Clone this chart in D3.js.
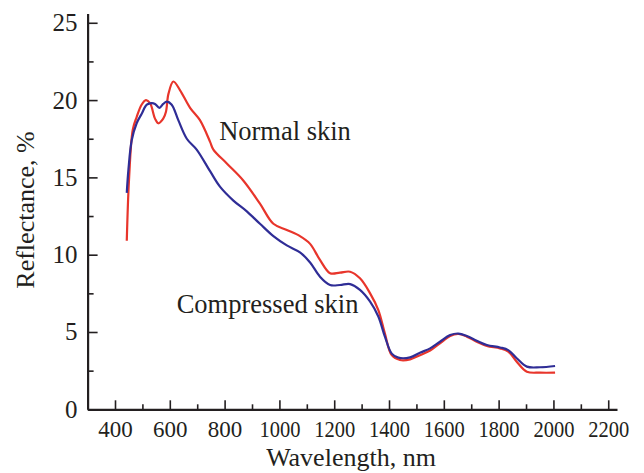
<!DOCTYPE html>
<html>
<head>
<meta charset="utf-8">
<script src="https://cdn.jsdelivr.net/npm/d3@7"></script>
<style>
  html, body { margin: 0; padding: 0; background: #fff; }
</style>
</head>
<body>
<svg id="chart" width="644" height="473"></svg>
<script>
// Wavelength (nm) and reflectance (%)
const normalWavelength = [443, 451, 465, 479, 497, 513, 528, 546, 558, 576, 586, 595, 613, 637, 674, 710, 747, 759, 808, 868, 929, 978, 1027, 1075, 1112, 1148, 1185, 1221, 1258, 1294, 1331, 1361, 1385, 1410, 1440, 1477, 1513, 1550, 1586, 1623, 1653, 1684, 1720, 1757, 1805, 1835, 1866, 1903, 1951, 2006];
const normalReflectance = [10.9, 14.8, 18.1, 18.9, 19.7, 20.0, 19.8, 18.8, 18.5, 18.8, 19.25, 20.4, 21.2, 20.65, 19.5, 18.7, 17.3, 16.8, 15.9, 14.8, 13.3, 12.0, 11.6, 11.2, 10.7, 9.66, 8.8, 8.84, 8.9, 8.47, 7.5, 6.42, 4.9, 3.5, 3.19, 3.23, 3.5, 3.8, 4.27, 4.74, 4.87, 4.7, 4.37, 4.1, 3.94, 3.73, 3.08, 2.43, 2.37, 2.37];

const compressedWavelength = [443, 449, 461, 479, 497, 516, 534, 546, 562, 576, 589, 607, 631, 662, 698, 747, 783, 832, 881, 929, 978, 1027, 1075, 1112, 1148, 1185, 1221, 1258, 1294, 1331, 1361, 1385, 1410, 1434, 1477, 1513, 1550, 1586, 1623, 1653, 1684, 1720, 1757, 1805, 1835, 1866, 1903, 1951, 2006];
const compressedReflectance = [14.0, 15.5, 17.4, 18.5, 19.1, 19.7, 19.8, 19.75, 19.5, 19.75, 19.9, 19.7, 18.7, 17.5, 16.8, 15.4, 14.4, 13.5, 12.8, 12.0, 11.2, 10.6, 10.15, 9.5, 8.58, 8.04, 8.04, 8.1, 7.72, 6.96, 6.0, 4.7, 3.6, 3.34, 3.36, 3.66, 3.94, 4.37, 4.8, 4.9, 4.74, 4.44, 4.16, 4.0, 3.83, 3.3, 2.76, 2.72, 2.8];

const xMajorTicks = [400, 600, 800, 1000, 1200, 1400, 1600, 1800, 2000, 2200];
const xMinorTicks = [500, 700, 900, 1100, 1300, 1500, 1700, 1900, 2100];
const yMajorTicks = [0, 5, 10, 15, 20, 25];
const yMinorTicks = [2.5, 7.5, 12.5, 17.5, 22.5];

const xTitle = "Wavelength, nm";
const yTitle = "Reflectance, %";
const normalLabel = "Normal skin";
const compressedLabel = "Compressed skin";

const FONT = "'Liberation Serif', 'DejaVu Serif', serif";
const svg = d3.select("#chart");
const x = d3.scaleLinear().domain([300, 2232]).range([87.6, 617]);
const y = d3.scaleLinear().domain([0, 25.6]).range([409.3, 13.5]);

const axisColor = "#231f20";

// X axis
const gx = svg.append("g").attr("transform", `translate(0,${y(0)})`);
gx.call(d3.axisBottom(x).tickValues(xMajorTicks).tickSizeInner(-9).tickSizeOuter(0).tickPadding(11).tickFormat(d3.format("d")));
gx.append("g").call(d3.axisBottom(x).tickValues(xMinorTicks).tickSizeInner(-5).tickSizeOuter(0).tickFormat(""))
  .select(".domain").remove();
gx.selectAll(".domain").attr("stroke", axisColor).attr("stroke-width", 2.2);
gx.selectAll(".tick line").attr("stroke", axisColor).attr("stroke-width", 1.6);
gx.attr("font-family", FONT);
gx.selectAll(".tick text").attr("font-family", FONT).attr("font-size", 23).attr("fill", axisColor)
  .each(function(d) { if (String(d).length === 4) d3.select(this).attr("textLength", 41).attr("lengthAdjust", "spacingAndGlyphs"); });

// Y axis
const gy = svg.append("g").attr("transform", `translate(${x(300)},0)`);
gy.call(d3.axisLeft(y).tickValues(yMajorTicks).tickSizeInner(-10).tickSizeOuter(0).tickPadding(10).tickFormat(d3.format("d")));
gy.append("g").call(d3.axisLeft(y).tickValues(yMinorTicks).tickSizeInner(-6).tickSizeOuter(0).tickFormat(""))
  .select(".domain").remove();
gy.selectAll(".domain").attr("stroke", axisColor).attr("stroke-width", 2.2);
gy.selectAll(".tick line").attr("stroke", axisColor).attr("stroke-width", 1.6);
gy.attr("font-family", FONT);
gy.selectAll(".tick text").attr("font-family", FONT).attr("font-size", 25).attr("fill", axisColor);

// Titles
svg.append("text").attr("x", 351).attr("y", 466).attr("text-anchor", "middle")
  .attr("font-family", FONT).attr("fill", axisColor).attr("font-size", 26).text(xTitle);
svg.append("text").attr("transform", "translate(34,210) rotate(-90)").attr("text-anchor", "middle")
  .attr("font-family", FONT).attr("fill", axisColor).attr("font-size", 26).text(yTitle);

// Lines
const line = d3.line().x(d => x(d[0])).y(d => y(d[1])).curve(d3.curveCatmullRom.alpha(0.5));
const normalData = normalWavelength.map((w, i) => [w, normalReflectance[i]]);
const compressedData = compressedWavelength.map((w, i) => [w, compressedReflectance[i]]);

svg.append("path").datum(normalData).attr("d", line).attr("fill", "none")
  .attr("stroke", "#e8352b").attr("stroke-width", 2.2).attr("stroke-linejoin", "round");
svg.append("path").datum(compressedData).attr("d", line).attr("fill", "none")
  .attr("stroke", "#2f2d96").attr("stroke-width", 2.2).attr("stroke-linejoin", "round");

// Annotations
svg.append("text").attr("x", x(780)).attr("y", y(17.45)).attr("font-family", FONT).attr("fill", axisColor)
  .attr("font-size", 26.5).text(normalLabel);
svg.append("text").attr("x", x(625)).attr("y", y(6.2)).attr("font-family", FONT).attr("fill", axisColor)
  .attr("font-size", 26.5).text(compressedLabel);
</script>
</body>
</html>
